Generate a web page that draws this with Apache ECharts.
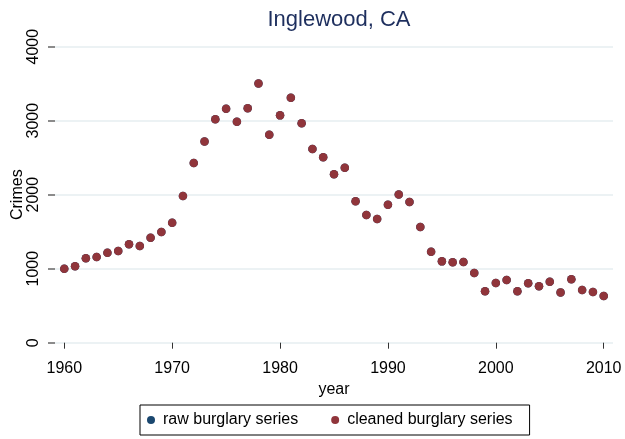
<!DOCTYPE html>
<html>
<head>
<meta charset="utf-8">
<script src="https://cdn.jsdelivr.net/npm/echarts@6/dist/echarts.min.js"></script>
<style>html,body{margin:0;padding:0;background:#fff}#c{width:625px;height:439px}</style>
</head>
<body>
<div id="c"></div>
<script>
const years = [1960,1961,1962,1963,1964,1965,1966,1967,1968,1969,1970,1971,1972,1973,1974,1975,1976,1977,1978,1979,1980,1981,1982,1983,1984,1985,1986,1987,1988,1989,1990,1991,1992,1993,1994,1995,1996,1997,1998,1999,2000,2001,2002,2003,2004,2005,2006,2007,2008,2009,2010];
const cleanedValues = [1000,1032,1140,1158,1216,1239,1329,1307,1419,1496,1622,1982,2428,2720,3018,3162,2985,3167,3504,2811,3072,3311,2964,2618,2505,2275,2365,1910,1725,1671,1865,2003,1901,1563,1230,1099,1086,1090,942,695,807,847,695,802,762,824,680,856,712,685,631];
// raw series coincides with the cleaned series (fully hidden beneath it)
const rawValues = [1000,1032,1140,1158,1216,1239,1329,1307,1419,1496,1622,1982,2428,2720,3018,3162,2985,3167,3504,2811,3072,3311,2964,2618,2505,2275,2365,1910,1725,1671,1865,2003,1901,1563,1230,1099,1086,1090,942,695,807,847,695,802,762,824,680,856,712,685,631];
const xTicks = [1960,1970,1980,1990,2000,2010];
const yTicks = [0,1000,2000,3000,4000];

const font = 'Liberation Sans, Arial, Helvetica, sans-serif';
const chart = echarts.init(document.getElementById('c'), null, {renderer:'canvas'});
chart.setOption({
  animation: false,
  backgroundColor: '#ffffff',
  title: {
    text: 'Inglewood, CA',
    left: 334, top: 4, textAlign: 'center',
    textStyle: {fontFamily: font, fontSize: 22, fontWeight: 'normal', color: '#1e2f5e'}
  },
  legend: {
    left: 140, top: 405,
    padding: [7, 17, 7, 7],
    borderColor: '#000', borderWidth: 1,
    itemWidth: 14, itemHeight: 8, itemGap: 33,
    icon: 'circle',
    textStyle: {fontFamily: font, fontSize: 16, color: '#000'},
    data: ['raw burglary series', 'cleaned burglary series']
  },
  grid: {left: 55, right: 12, top: 46.7, bottom: 96.3, containLabel: false},
  xAxis: {
    type: 'value', min: 1959.14, max: 2010.86,
    offset: 10,
    name: 'year', nameLocation: 'middle', nameGap: 25,
    nameTextStyle: {fontFamily: font, fontSize: 16, color: '#000'},
    axisLine: {show: false},
    axisTick: {show: true, length: 6, customValues: xTicks, lineStyle: {color: '#333'}},
    axisLabel: {customValues: xTicks, margin: 8, fontFamily: font, fontSize: 16, color: '#000',
      formatter: v => String(v)},
    splitLine: {show: false}
  },
  yAxis: {
    type: 'value', min: 0, max: 4000, interval: 1000,
    name: 'Crimes', nameLocation: 'middle', nameGap: 29, nameRotate: 90,
    nameMoveOverlap: false,
    nameTextStyle: {fontFamily: font, fontSize: 16, color: '#000'},
    axisLine: {show: false},
    axisTick: {show: true, length: 7, lineStyle: {color: '#666', width: 1.5}},
    axisLabel: {rotate: 90, margin: 13, fontFamily: font, fontSize: 16, color: '#000',
      formatter: v => String(v)},
    splitLine: {show: true, lineStyle: {color: '#e6eef1', width: 1.5}}
  },
  series: [
    {name: 'raw burglary series', type: 'scatter', symbolSize: 8.5,
     itemStyle: {color: '#1a476f', opacity: 1},
     data: years.map((y, i) => [y, rawValues[i]])},
    {name: 'cleaned burglary series', type: 'scatter', symbolSize: 8.5,
     itemStyle: {color: '#90353b', opacity: 1},
     data: years.map((y, i) => [y, cleanedValues[i]])}
  ]
});
</script>
</body>
</html>
